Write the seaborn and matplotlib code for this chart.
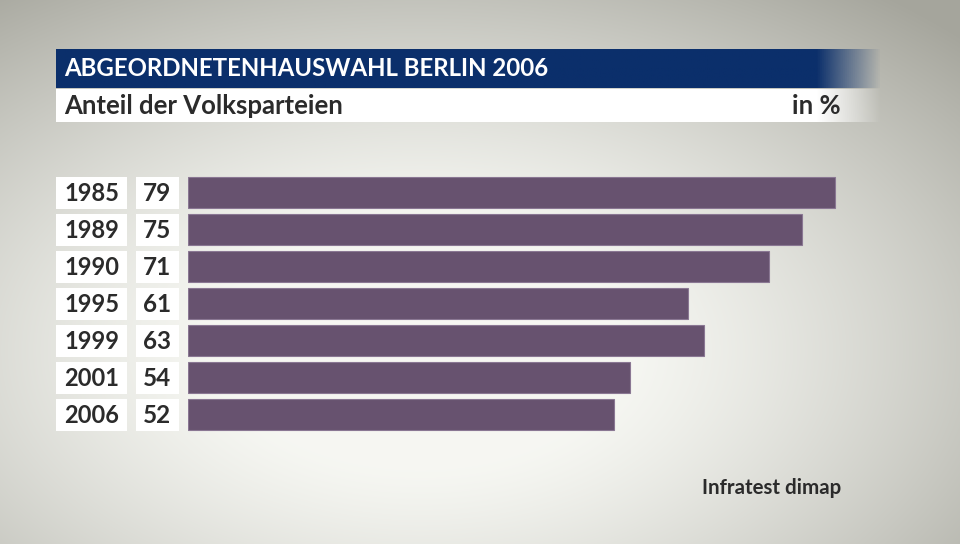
import numpy as np
import pandas as pd
import matplotlib
matplotlib.use("Agg")
import matplotlib.pyplot as plt
import seaborn as sns
from matplotlib.patches import Rectangle
from matplotlib.transforms import blended_transform_factory

years = ["1985", "1989", "1990", "1995", "1999", "2001", "2006"]
values = [79, 75, 71, 61, 63, 54, 52]
title = "ABGEORDNETENHAUSWAHL BERLIN 2006"
subtitle = "Anteil der Volksparteien"
unit = "in %"
source = "Infratest dimap"

df = pd.DataFrame({"year": years, "value": values})

sns.set_theme(style="white")
plt.rcParams["font.family"] = ["Lato", "DejaVu Sans"]

W, H = 960, 544
fig = plt.figure(figsize=(9.6, 5.44), dpi=100)

# background gradient
bg = fig.add_axes([0, 0, 1, 1])
yy, xx = np.mgrid[0:H, 0:W]
d = np.sqrt(((xx - 420) / 600.0) ** 2 + ((yy - 350) / 360.0) ** 2)
d = np.clip(d, 0, 1.3)
light = np.array([0.965, 0.968, 0.950])
dark = np.array([0.65, 0.65, 0.615])
t = np.clip((d - 0.33) / 0.92, 0, 1) ** 1.25
img = light[None, None, :] * (1 - t[..., None]) + dark[None, None, :] * t[..., None]
bg.imshow(img, extent=[0, W, H, 0], aspect="auto")
bg.set_xlim(0, W)
bg.set_ylim(H, 0)
bg.axis("off")

# title bar with fade on right
def hbar(y0, y1, x0, x1, fade0, color):
    n = 400
    xs = np.linspace(x0, x1, n)
    alpha = np.clip((x1 - xs) / (x1 - fade0), 0, 1)
    alpha = np.where(xs < fade0, 1, alpha)
    rgba = np.zeros((1, n, 4))
    rgba[0, :, :3] = matplotlib.colors.to_rgb(color)
    rgba[0, :, 3] = alpha
    bg.imshow(rgba, extent=[x0, x1, y1, y0], aspect="auto", zorder=2)

hbar(49, 88, 56, 882, 818, "#0b2f6b")
hbar(89, 122, 56, 882, 818, "#ffffff")
bg.set_xlim(0, W)
bg.set_ylim(H, 0)
bg.text(64, 69, title, color="white", fontsize=17.3, fontweight="bold", va="center", ha="left", zorder=3)
bg.text(64, 106, subtitle, color="#2b2b2b", fontsize=18.5, fontweight="bold", va="center", ha="left", zorder=3)
bg.text(841, 106, unit, color="#2b2b2b", fontsize=18.5, fontweight="bold", va="center", ha="right", zorder=3)
bg.text(841, 488, source, color="#2b2b2b", fontsize=14.8, fontweight="bold", va="center", ha="right", zorder=3)

# bars axes
px = 8.19
x_left, x_right = 188, 880
row_top, pitch = 174, 37.0
n = len(years)
ax_h = pitch * n
ax = fig.add_axes([x_left / W, (H - row_top - ax_h) / H, (x_right - x_left) / W, ax_h / H])
ax.patch.set_alpha(0)
sns.barplot(data=df, x="value", y="year", orient="h", color="#67526f",
            saturation=1, width=31 / 37, edgecolor="#8a7793", linewidth=0.8, ax=ax)
ax.set_xlim(0, (x_right - x_left) / px)
ax.set_ylim(n - 0.5, -0.5)
ax.axis("off")

tr = blended_transform_factory(fig.transFigure, ax.transData)
bh = 32 / 37
for i, (yr, v) in enumerate(zip(years, values)):
    ax.add_patch(Rectangle((56 / W, i - bh / 2), 71 / W, bh, transform=tr,
                           facecolor="white", edgecolor="none", clip_on=False))
    ax.add_patch(Rectangle((136 / W, i - bh / 2), 43 / W, bh, transform=tr,
                           facecolor="white", edgecolor="none", clip_on=False))
    ax.text(64 / W, i + 0.03, yr, transform=tr, ha="left", va="center",
            fontsize=17, fontweight="bold", color="#2b2b2b")
    ax.text(143 / W, i + 0.03, str(v), transform=tr, ha="left", va="center",
            fontsize=17.5, fontweight="bold", color="#2b2b2b")

fig.savefig("out.png", dpi=100)
